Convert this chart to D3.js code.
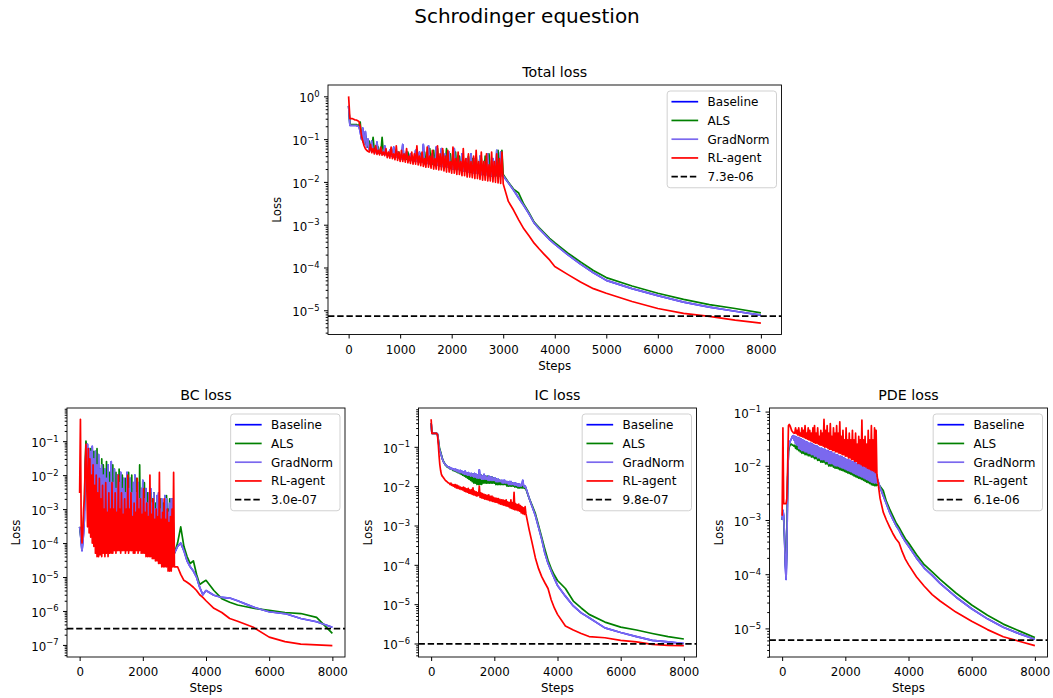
<!DOCTYPE html>
<html>
<head>
<meta charset="utf-8">
<script src="https://cdn.jsdelivr.net/npm/d3@7"></script>
<style>
  body { margin: 0; background: #fff; }
  svg { display: block; font-family: "DejaVu Sans", sans-serif; }
</style>
</head>
<body>
<div id="chart"></div>
<script>
var W = 1053, H = 698;
var FONT = '"DejaVu Sans", sans-serif';

var names = ['Baseline', 'ALS', 'GradNorm', 'RL-agent'];
var colors = ['#0000ff', '#008000', '#7b68ee', '#ff0000'];

// sample positions: every 25 steps up to 3000, then coarser on the smooth tail
var steps = d3.range(0, 3001, 25).concat([3100, 3200, 3300, 3400, 3500, 3600, 3700, 3800, 3900, 4000,
  4250, 4500, 4750, 5000, 5500, 6000, 6500, 7000, 7500, 8000]);

var xTicksTop = [0, 1000, 2000, 3000, 4000, 5000, 6000, 7000, 8000];
var xTicksBottom = [0, 2000, 4000, 6000, 8000];

// ---- Total loss ----
var totalGradNorm = [
  0.6,0.21,0.21,0.21,0.21,0.21,0.21,0.2,0.2,0.15,
  0.1,0.18,0.075,0.15,0.065,0.1,0.058,0.055,0.09,0.053,
  0.05,0.049,0.085,0.048,0.047,0.06,0.046,0.045,0.07,0.044,
  0.043,0.042,0.055,0.041,0.04,0.065,0.039,0.038,0.05,0.037,
  0.036,0.035,0.075,0.035,0.034,0.05,0.033,0.033,0.045,0.032,
  0.031,0.031,0.055,0.03,0.03,0.05,0.029,0.029,0.075,0.028,
  0.028,0.027,0.07,0.027,0.026,0.045,0.026,0.025,0.065,0.025,
  0.024,0.024,0.06,0.023,0.023,0.045,0.022,0.022,0.05,0.021,
  0.021,0.02,0.06,0.02,0.02,0.04,0.019,0.019,0.045,0.018,
  0.018,0.018,0.035,0.017,0.017,0.045,0.017,0.016,0.035,0.016,
  0.016,0.016,0.04,0.015,0.015,0.03,0.015,0.015,0.045,0.014,
  0.014,0.014,0.035,0.014,0.014,0.055,0.014,0.014,0.05,0.014,
  0.014,
  0.0095,0.0065,0.0042,0.0028,0.0018,0.0011,8e-4,6e-4,4.5e-4,3.5e-4,
  2e-4,1.2e-4,7.5e-5,5e-5,3.2e-5,2.2e-5,1.55e-5,1.18e-5,9.5e-6,7.7e-6];
var totalALS = [
  0.6,0.22,0.22,0.22,0.22,0.22,0.22,0.21,0.21,0.25,
  0.11,0.09,0.08,0.12,0.07,0.065,0.09,0.058,0.055,0.11,
  0.052,0.05,0.049,0.065,0.048,0.047,0.11,0.046,0.045,0.05,
  0.044,0.043,0.042,0.06,0.041,0.04,0.055,0.039,0.038,0.05,
  0.037,0.036,0.036,0.045,0.035,0.034,0.05,0.033,0.033,0.04,
  0.032,0.032,0.031,0.05,0.031,0.03,0.045,0.029,0.029,0.05,
  0.028,0.028,0.027,0.06,0.027,0.026,0.055,0.026,0.025,0.06,
  0.025,0.024,0.024,0.055,0.023,0.023,0.06,0.022,0.022,0.045,
  0.021,0.021,0.02,0.05,0.02,0.02,0.04,0.019,0.019,0.035,
  0.018,0.018,0.018,0.04,0.017,0.017,0.035,0.017,0.016,0.04,
  0.016,0.016,0.016,0.035,0.015,0.015,0.04,0.015,0.015,0.045,
  0.015,0.014,0.014,0.03,0.014,0.014,0.055,0.014,0.014,0.055,
  0.015,
  0.0098,0.0068,0.0055,0.003,0.0019,0.00115,8.5e-4,6.4e-4,4.8e-4,3.8e-4,
  2.2e-4,1.35e-4,8.5e-5,5.8e-5,3.7e-5,2.5e-5,1.8e-5,1.35e-5,1.1e-5,8.7e-6];
var totalRL = [
  1.0,0.3,0.3,0.3,0.29,0.28,0.28,0.27,0.26,0.2,
  0.12,0.09,0.07,0.06,0.055,0.052,0.05,0.075,0.048,0.06,
  0.045,0.07,0.044,0.055,0.043,0.065,0.042,0.05,0.041,0.06,
  0.037,0.05,0.036,0.065,0.035,0.045,0.033,0.07,0.032,0.05,
  0.03,0.055,0.03,0.045,0.029,0.06,0.028,0.04,0.027,0.05,
  0.026,0.045,0.026,0.07,0.025,0.04,0.024,0.05,0.023,0.035,
  0.022,0.065,0.022,0.04,0.021,0.055,0.02,0.035,0.02,0.07,
  0.019,0.045,0.019,0.06,0.018,0.04,0.017,0.055,0.017,0.03,
  0.016,0.065,0.016,0.035,0.015,0.05,0.015,0.03,0.014,0.06,
  0.014,0.035,0.013,0.045,0.013,0.03,0.0125,0.04,0.012,0.055,
  0.012,0.03,0.0115,0.05,0.011,0.03,0.011,0.045,0.0105,0.025,
  0.0105,0.05,0.01,0.03,0.0098,0.045,0.0095,0.035,0.0092,0.05,
  0.009,
  0.0035,0.0022,0.0013,8e-4,5.5e-4,3.7e-4,2.7e-4,2e-4,1.5e-4,1.05e-4,
  6.9e-5,4.6e-5,3.2e-5,2.5e-5,1.6e-5,1.1e-5,8.5e-6,7.2e-6,5.9e-6,5e-6];
// Baseline lies exactly under GradNorm in the picture
var totalBaseline = totalGradNorm;
var refTotal = 7.3e-6;

// ---- BC loss ----
var bcGradNorm = [
  3e-4,2e-4,1e-4,6e-5,1e-4,2e-4,5e-4,0.01,0.05,0.08,
  0.08,2e-3,0.06,1e-3,0.05,5e-4,0.07,3e-4,0.03,3e-4,
  0.05,2e-4,0.02,2e-4,0.04,1.5e-4,0.015,1.5e-4,0.02,1.2e-4,
  0.01,1.2e-4,0.015,1e-4,0.008,1e-4,0.02,1e-4,0.006,1e-4,
  0.025,1e-4,0.006,1e-4,0.015,1e-4,0.004,1e-4,0.01,1e-4,
  0.006,1e-4,0.012,1e-4,0.004,1e-4,0.008,1e-4,0.003,1e-4,
  0.012,1e-4,0.004,1e-4,0.008,1e-4,0.003,9e-5,0.006,9e-5,
  0.01,9e-5,0.003,9e-5,0.006,8e-5,0.002,8e-5,0.004,8e-5,
  0.007,8e-5,0.002,8e-5,0.004,7e-5,0.0015,7e-5,0.003,7e-5,
  0.004,6e-5,0.0015,6e-5,0.003,6e-5,0.001,6e-5,0.0025,5e-5,
  0.003,5e-5,0.001,5e-5,0.002,5e-5,8e-4,5e-5,0.0025,4e-5,
  0.002,4e-5,8e-4,4e-5,0.0015,4e-5,0.002,4e-5,0.002,5e-5,
  5e-5,
  8e-5,1e-4,6e-5,3e-5,2e-5,1.5e-5,1e-5,5e-6,3e-6,4e-6,
  2.9e-6,2.5e-6,2.4e-6,2e-6,1.3e-6,9.5e-7,8.4e-7,6e-7,4.8e-7,3.3e-7];
var bcALS = [
  3e-4,2e-4,1.2e-4,1e-4,2e-4,5e-4,1e-3,0.02,0.1,0.06,
  0.06,1.5e-3,0.05,8e-4,0.06,4e-4,0.04,3e-4,0.05,2e-4,
  0.03,2e-4,0.06,2e-4,0.015,1.5e-4,0.01,1.5e-4,0.03,1.2e-4,
  0.02,1.2e-4,0.008,1e-4,0.025,1e-4,0.01,1e-4,0.012,1e-4,
  0.01,1e-4,0.02,1e-4,0.008,1e-4,0.012,1e-4,0.006,1e-4,
  0.015,1e-4,0.006,1e-4,0.01,1e-4,0.005,1e-4,0.008,1e-4,
  0.006,1e-4,0.012,1e-4,0.005,1e-4,0.01,9e-5,0.004,9e-5,
  0.005,9e-5,0.008,9e-5,0.003,8e-5,0.02,8e-5,0.004,8e-5,
  0.004,8e-5,0.006,8e-5,0.002,7e-5,0.003,7e-5,0.002,7e-5,
  0.003,6e-5,0.002,6e-5,0.003,6e-5,0.0015,6e-5,0.002,5e-5,
  0.002,5e-5,0.002,5e-5,0.001,5e-5,0.0015,5e-5,0.001,4e-5,
  0.0025,4e-5,0.001,4e-5,0.002,4e-5,0.0015,4e-5,0.002,5e-5,
  5e-5,
  1e-4,3e-4,8e-5,4e-5,2.5e-5,3e-5,1.2e-5,6e-6,7e-6,8e-6,
  4e-6,2.3e-6,1.8e-6,1.5e-6,1.2e-6,1.05e-6,9e-7,8.4e-7,6.5e-7,2.2e-7];
var bcRL = [
  3e-3,0.44,3e-4,1e-4,2e-4,1e-3,2e-3,0.02,0.08,5e-3,
  3e-4,0.06,2e-4,0.03,1.5e-4,0.01,1e-4,0.02,8e-5,0.005,
  5e-5,0.01,4e-5,3e-3,4e-5,0.008,4.5e-5,2e-3,4e-5,5e-3,
  5e-5,1e-3,4e-5,0.006,5e-5,8e-4,4e-5,3e-3,5e-5,1e-3,
  5e-5,0.006,5e-5,1e-3,6e-5,3e-3,5e-5,8e-4,6e-5,0.01,
  6e-5,1e-3,5e-5,3e-3,6e-5,7e-4,6e-5,2e-3,5e-5,1e-3,
  6e-5,0.01,5e-5,1e-3,6e-5,3e-3,6e-5,6e-4,5e-5,1.5e-3,
  5e-5,8e-4,6e-5,0.008,5e-5,1e-3,6e-5,2e-3,5e-5,7e-4,
  5e-5,4e-3,5e-5,8e-4,4e-5,1.5e-3,4e-5,6e-4,4e-5,0.01,
  4e-5,7e-4,3.5e-5,2e-3,3.5e-5,5e-4,3e-5,1e-3,3e-5,6e-4,
  2.5e-5,0.012,2.5e-5,5e-4,2e-5,8e-4,2e-5,2e-3,2e-5,5e-4,
  2e-5,1e-3,1.5e-5,4e-4,1.5e-5,6e-4,1.5e-5,1e-3,2e-5,0.012,
  2e-5,
  2e-5,1.2e-5,8e-6,7e-6,6e-6,5e-6,4e-6,3e-6,2.5e-6,2e-6,
  1.2e-6,9e-7,6e-7,5e-7,3.3e-7,1.7e-7,1.25e-7,1.05e-7,1e-7,9.5e-8];
var bcBaseline = bcGradNorm;
var refBC = 3.0e-7;

// ---- IC loss ----
var icGradNorm = [
  0.4,0.22,0.22,0.22,0.22,0.22,0.22,0.22,0.21,0.15,
  0.1,0.08,0.07,0.06,0.05,0.045,0.04,0.038,0.035,0.034,
  0.032,0.031,0.03,0.031,0.028,0.029,0.027,0.028,0.026,0.027,
  0.025,0.027,0.024,0.026,0.023,0.025,0.022,0.025,0.022,0.024,
  0.021,0.023,0.02,0.024,0.02,0.022,0.019,0.022,0.019,0.021,
  0.018,0.021,0.018,0.02,0.017,0.021,0.017,0.02,0.016,0.019,
  0.016,0.026,0.016,0.019,0.015,0.018,0.015,0.02,0.015,0.018,
  0.015,0.017,0.014,0.018,0.014,0.017,0.014,0.017,0.014,0.016,
  0.014,0.016,0.013,0.015,0.013,0.015,0.013,0.014,0.013,0.014,
  0.012,0.014,0.012,0.014,0.012,0.013,0.012,0.013,0.011,0.013,
  0.011,0.013,0.011,0.012,0.011,0.012,0.0105,0.012,0.0105,0.0115,
  0.01,0.0115,0.01,0.011,0.01,0.011,0.014,0.0105,0.0095,0.01,
  0.009,
  5e-3,3e-3,1.8e-3,9e-4,4.5e-4,2e-4,1.1e-4,7e-5,4.5e-5,3e-5,
  1.6e-5,9e-6,6e-6,4.5e-6,2.5e-6,1.9e-6,1.5e-6,1.2e-6,1.1e-6,1e-6];
var icALS = [
  0.4,0.22,0.22,0.22,0.22,0.22,0.22,0.22,0.21,0.16,
  0.11,0.085,0.075,0.062,0.052,0.046,0.041,0.038,0.035,0.033,
  0.031,0.03,0.03,0.029,0.028,0.028,0.027,0.026,0.025,0.026,
  0.024,0.026,0.023,0.025,0.022,0.024,0.021,0.023,0.02,0.022,
  0.019,0.022,0.018,0.02,0.017,0.02,0.016,0.019,0.015,0.019,
  0.014,0.018,0.013,0.02,0.012,0.018,0.012,0.017,0.011,0.018,
  0.011,0.02,0.011,0.019,0.011,0.017,0.012,0.019,0.012,0.017,
  0.012,0.018,0.012,0.017,0.012,0.016,0.012,0.017,0.012,0.016,
  0.012,0.015,0.011,0.015,0.011,0.014,0.011,0.014,0.011,0.013,
  0.011,0.013,0.011,0.013,0.011,0.013,0.01,0.012,0.01,0.012,
  0.01,0.012,0.01,0.012,0.01,0.011,0.0095,0.011,0.0095,0.011,
  0.009,0.011,0.009,0.01,0.009,0.01,0.009,0.01,0.0088,0.0095,
  0.0085,
  5e-3,3.2e-3,2e-3,1e-3,5e-4,2.5e-4,1.3e-4,8e-5,5.5e-5,4e-5,
  2.5e-5,1.2e-5,8e-6,5.5e-6,3.5e-6,2.6e-6,2.2e-6,1.8e-6,1.5e-6,1.3e-6];
var icRL = [
  0.5,0.22,0.22,0.22,0.22,0.22,0.22,0.22,0.2,0.12,
  0.06,0.035,0.025,0.02,0.018,0.017,0.016,0.015,0.014,0.0135,
  0.013,0.0125,0.012,0.0118,0.011,0.012,0.0105,0.011,0.01,0.011,
  0.0095,0.011,0.009,0.0105,0.0088,0.01,0.0085,0.0095,0.0082,0.0092,
  0.008,0.0095,0.0075,0.009,0.0072,0.0085,0.007,0.0088,0.0066,0.008,
  0.0065,0.0082,0.0062,0.009,0.006,0.0075,0.0058,0.0072,0.0056,0.0068,
  0.0058,0.01,0.0052,0.0068,0.005,0.0065,0.0049,0.0062,0.0047,0.006,
  0.0046,0.0058,0.0045,0.006,0.0043,0.0055,0.0042,0.0056,0.0041,0.0052,
  0.004,0.005,0.0039,0.0049,0.0038,0.0048,0.0036,0.0046,0.0035,0.0045,
  0.0034,0.0045,0.0033,0.0043,0.0032,0.0045,0.0031,0.004,0.003,0.0038,
  0.0028,0.0045,0.0027,0.0038,0.0026,0.007,0.0025,0.0036,0.0025,0.0034,
  0.0024,0.0035,0.0023,0.0032,0.0021,0.003,0.002,0.0028,0.0019,0.003,
  0.002,
  8e-4,3.5e-4,1.5e-4,8e-5,5e-5,3.5e-5,2.5e-5,1.3e-5,8e-6,5.5e-6,
  2.8e-6,2.2e-6,1.8e-6,1.5e-6,1.4e-6,1.2e-6,1.1e-6,9.5e-7,9e-7,8.8e-7];
var icBaseline = icGradNorm;
var refIC = 9.8e-7;

// ---- PDE loss ----
var pdeGradNorm = [
  1e-3,1.5e-3,1.2e-3,5e-4,1.5e-4,8e-5,3e-4,0.005,0.02,0.025,
  0.028,0.03,0.032,0.035,0.036,0.03,0.035,0.026,0.034,0.024,
  0.033,0.021,0.032,0.02,0.031,0.019,0.03,0.019,0.029,0.018,
  0.028,0.018,0.027,0.017,0.026,0.017,0.026,0.016,0.025,0.016,
  0.024,0.015,0.023,0.015,0.023,0.014,0.022,0.014,0.021,0.013,
  0.021,0.013,0.02,0.013,0.02,0.012,0.019,0.012,0.019,0.011,
  0.018,0.011,0.018,0.011,0.017,0.0105,0.017,0.01,0.016,0.01,
  0.016,0.0098,0.015,0.0095,0.015,0.0092,0.0145,0.009,0.014,0.0088,
  0.0135,0.0085,0.013,0.0082,0.013,0.008,0.0125,0.0078,0.012,0.0075,
  0.012,0.0072,0.0115,0.007,0.011,0.0068,0.011,0.0066,0.0105,0.0064,
  0.0105,0.0062,0.01,0.006,0.01,0.0058,0.0095,0.0056,0.0095,0.0054,
  0.009,0.0052,0.009,0.005,0.0085,0.0049,0.0085,0.0048,0.008,0.0048,
  0.006,
  4e-3,2.8e-3,2e-3,1.4e-3,1.05e-3,8e-4,6.5e-4,5e-4,4e-4,3.3e-4,
  2e-4,1.3e-4,9.5e-5,6.8e-5,3.8e-5,2.3e-5,1.5e-5,1.05e-5,8e-6,6.3e-6];
var pdeALS = [
  1e-3,1.2e-3,1e-3,5e-4,2e-4,1e-4,5e-4,0.006,0.018,0.022,
  0.024,0.025,0.025,0.024,0.024,0.023,0.024,0.021,0.023,0.02,
  0.028,0.019,0.027,0.018,0.026,0.017,0.025,0.017,0.025,0.016,
  0.024,0.016,0.023,0.0153,0.022,0.0153,0.022,0.0145,0.021,0.0145,
  0.02,0.0135,0.02,0.0135,0.019,0.0126,0.019,0.0126,0.018,0.0117,
  0.018,0.0117,0.017,0.0117,0.017,0.0108,0.016,0.0108,0.016,0.0099,
  0.015,0.0099,0.015,0.0099,0.0145,0.0094,0.0145,0.009,0.0136,0.009,
  0.0136,0.0088,0.0128,0.0085,0.0128,0.0083,0.0123,0.0081,0.012,0.0079,
  0.0115,0.0076,0.011,0.0074,0.011,0.0072,0.0106,0.007,0.0102,0.0068,
  0.0102,0.0065,0.0098,0.0063,0.0094,0.0061,0.0094,0.0059,0.009,0.0058,
  0.009,0.0056,0.0085,0.0054,0.0085,0.0052,0.0081,0.005,0.0081,0.0049,
  0.0077,0.0047,0.0077,0.0045,0.0072,0.0044,0.0072,0.0043,0.045,0.0043,
  0.0045,
  4.2e-3,3.5e-3,2.2e-3,1.6e-3,1.2e-3,9e-4,7.3e-4,5.7e-4,4.5e-4,3.8e-4,
  2.3e-4,1.5e-4,1.1e-4,8e-5,4.5e-5,2.7e-5,1.75e-5,1.2e-5,9e-6,6.8e-6];
var pdeRL = [
  1.2e-3,0.05,2e-3,2e-3,2e-3,2e-3,2.5e-3,0.01,0.055,0.058,
  0.055,0.05,0.045,0.043,0.041,0.04,0.04,0.05,0.039,0.045,
  0.037,0.05,0.036,0.04,0.035,0.05,0.034,0.045,0.033,0.055,
  0.032,0.04,0.031,0.05,0.03,0.045,0.029,0.04,0.028,0.05,
  0.027,0.055,0.026,0.04,0.026,0.05,0.025,0.035,0.024,0.045,
  0.024,0.04,0.023,0.072,0.022,0.045,0.022,0.055,0.021,0.04,
  0.02,0.06,0.02,0.035,0.019,0.05,0.019,0.04,0.018,0.055,
  0.018,0.04,0.017,0.065,0.017,0.035,0.016,0.045,0.016,0.03,
  0.015,0.05,0.015,0.03,0.014,0.04,0.014,0.03,0.013,0.045,
  0.013,0.03,0.012,0.04,0.012,0.025,0.011,0.035,0.011,0.03,
  0.0105,0.07,0.01,0.03,0.0098,0.035,0.0095,0.025,0.009,0.045,
  0.0088,0.03,0.0085,0.055,0.0082,0.03,0.008,0.05,0.0075,0.045,
  0.007,
  2.5e-3,1.4e-3,1e-3,7.5e-4,5.7e-4,4.5e-4,3.8e-4,2.6e-4,1.9e-4,1.5e-4,
  9e-5,6e-5,4.2e-5,3.2e-5,2e-5,1.35e-5,9.5e-6,7e-6,5.8e-6,4.8e-6];
var pdeBaseline = pdeGradNorm;
var refPDE = 6.1e-6;

var panels = [
  { title: 'Total loss', series: [totalBaseline, totalALS, totalGradNorm, totalRL], ref: refTotal, xTicks: xTicksTop, box: [328, 85, 781.5, 334.5] },
  { title: 'BC loss', series: [bcBaseline, bcALS, bcGradNorm, bcRL], ref: refBC, xTicks: xTicksBottom, box: [67, 408, 345, 657] },
  { title: 'IC loss', series: [icBaseline, icALS, icGradNorm, icRL], ref: refIC, xTicks: xTicksBottom, box: [418.5, 408, 696.5, 657] },
  { title: 'PDE loss', series: [pdeBaseline, pdeALS, pdeGradNorm, pdeRL], ref: refPDE, xTicks: xTicksBottom, box: [769.5, 408, 1047.5, 657] }
];

var fmtRef = function(v) {
  return v.toExponential(1).replace(/e([+-])(\d)$/, 'e$10$2');
};

var svg = d3.select('#chart').append('svg')
  .attr('width', W)
  .attr('height', H);

svg.append('text')
  .attr('x', 527).attr('y', 23)
  .attr('text-anchor', 'middle')
  .attr('font-size', 20)
  .text('Schrodinger equestion');

panels.forEach(function(p, pi) {
  var L = p.box[0], T = p.box[1], R = p.box[2], B = p.box[3];
  var g = svg.append('g');

  var xExt = d3.extent(steps), xm = (xExt[1] - xExt[0]) * 0.05;
  var x = d3.scaleLinear().domain([xExt[0] - xm, xExt[1] + xm]).range([L, R]);

  var all = d3.merge(p.series);
  var lo = Math.log10(d3.min(all)), hi = Math.log10(d3.max(all)), ym = (hi - lo) * 0.05;
  var y = d3.scaleLog().domain([Math.pow(10, lo - ym), Math.pow(10, hi + ym)]).range([B, T]);

  var clipId = 'clip' + pi;
  svg.append('clipPath').attr('id', clipId)
    .append('rect').attr('x', L).attr('y', T).attr('width', R - L).attr('height', B - T);

  var line = d3.line()
    .x(function(d, i) { return x(steps[i]); })
    .y(function(d) { return y(d); });

  var plot = g.append('g').attr('clip-path', 'url(#' + clipId + ')');
  p.series.forEach(function(s, si) {
    plot.append('path')
      .datum(s)
      .attr('d', line)
      .attr('fill', 'none')
      .attr('stroke', colors[si])
      .attr('stroke-width', 1.7)
      .attr('stroke-linejoin', 'round');
  });
  plot.append('line')
    .attr('x1', L).attr('x2', R)
    .attr('y1', y(p.ref)).attr('y2', y(p.ref))
    .attr('stroke', '#000')
    .attr('stroke-width', 1.7)
    .attr('stroke-dasharray', '6.4,2.8');

  // x axis
  var xa = g.append('g')
    .attr('transform', 'translate(0,' + B + ')')
    .call(d3.axisBottom(x).tickValues(p.xTicks).tickSize(4).tickPadding(7).tickFormat(d3.format('d')));
  xa.select('.domain').remove();
  xa.attr('font-size', 11.8).attr('font-family', FONT);
  xa.selectAll('text').attr('fill', '#000');

  // y axis: decades and 2..9 minor ticks
  var yd = y.domain();
  var kLo = Math.ceil(Math.log10(yd[0]) - 1e-9), kHi = Math.floor(Math.log10(yd[1]) + 1e-9);
  var majors = d3.range(kLo, kHi + 1).map(function(k) { return Math.pow(10, k); });
  var minors = [];
  d3.range(kLo - 1, kHi + 1).forEach(function(k) {
    d3.range(2, 10).forEach(function(m) {
      var v = m * Math.pow(10, k);
      if (v >= yd[0] && v <= yd[1]) minors.push(v);
    });
  });
  var ya = g.append('g')
    .attr('transform', 'translate(' + L + ',0)')
    .call(d3.axisLeft(y).tickValues(majors).tickSize(4).tickFormat(''));
  ya.select('.domain').remove();
  var yMinor = g.append('g')
    .attr('transform', 'translate(' + L + ',0)')
    .call(d3.axisLeft(y).tickValues(minors).tickSize(2.3).tickFormat(''));
  yMinor.select('.domain').remove();

  majors.forEach(function(v) {
    var k = Math.round(Math.log10(v));
    var t = g.append('text')
      .attr('x', L - 8.5)
      .attr('y', y(v) + 6)
      .attr('text-anchor', 'end')
      .attr('font-size', 11.8)
      .attr('font-family', FONT);
    t.append('tspan').text('10');
    t.append('tspan')
      .attr('dy', -5.5)
      .attr('font-size', 8.4)
      .text(k < 0 ? '\u2212' + (-k) : String(k));
  });

  // frame
  g.append('rect')
    .attr('x', L).attr('y', T)
    .attr('width', R - L).attr('height', B - T)
    .attr('fill', 'none')
    .attr('stroke', '#000')
    .attr('stroke-width', 0.9);

  // labels
  g.append('text')
    .attr('x', (L + R) / 2).attr('y', T - 8)
    .attr('text-anchor', 'middle')
    .attr('font-size', 14.2)
    .text(p.title);
  g.append('text')
    .attr('x', (L + R) / 2).attr('y', B + 35)
    .attr('text-anchor', 'middle')
    .attr('font-size', 11.8)
    .text('Steps');
  g.append('text')
    .attr('transform', 'translate(' + (L - 47) + ',' + ((T + B) / 2) + ') rotate(-90)')
    .attr('text-anchor', 'middle')
    .attr('font-size', 11.8)
    .text('Loss');

  // legend
  var rows = names.map(function(n, i) { return { label: n, color: colors[i], dash: null }; })
    .concat([{ label: fmtRef(p.ref), color: '#000', dash: '6.4,2.8' }]);
  var lg = g.append('g');
  var box = lg.append('rect');
  var boxTop = T + 6, rowGap = 18.75, maxW = 0;
  rows.forEach(function(r, i) {
    var cy = boxTop + 10.7 + i * rowGap;
    var ln = lg.append('line')
      .attr('y1', cy).attr('y2', cy)
      .attr('stroke', r.color)
      .attr('stroke-width', 1.7)
      .attr('class', 'handle');
    if (r.dash) ln.attr('stroke-dasharray', r.dash);
    var tx = lg.append('text')
      .attr('y', cy + 4.3)
      .attr('font-size', 12)
      .attr('class', 'ltext')
      .text(r.label);
    maxW = Math.max(maxW, tx.node().getComputedTextLength());
  });
  var bw = 40.4 + maxW + 7;
  var bx = R - 5 - bw;
  lg.selectAll('line.handle').attr('x1', bx + 4.3).attr('x2', bx + 31);
  lg.selectAll('text.ltext').attr('x', bx + 40.4);
  box.attr('x', bx).attr('y', boxTop)
    .attr('width', bw).attr('height', rows.length * rowGap + 3)
    .attr('rx', 3)
    .attr('fill', '#fff')
    .attr('fill-opacity', 0.8)
    .attr('stroke', '#cccccc')
    .attr('stroke-width', 0.9);
});
</script>
</body>
</html>
